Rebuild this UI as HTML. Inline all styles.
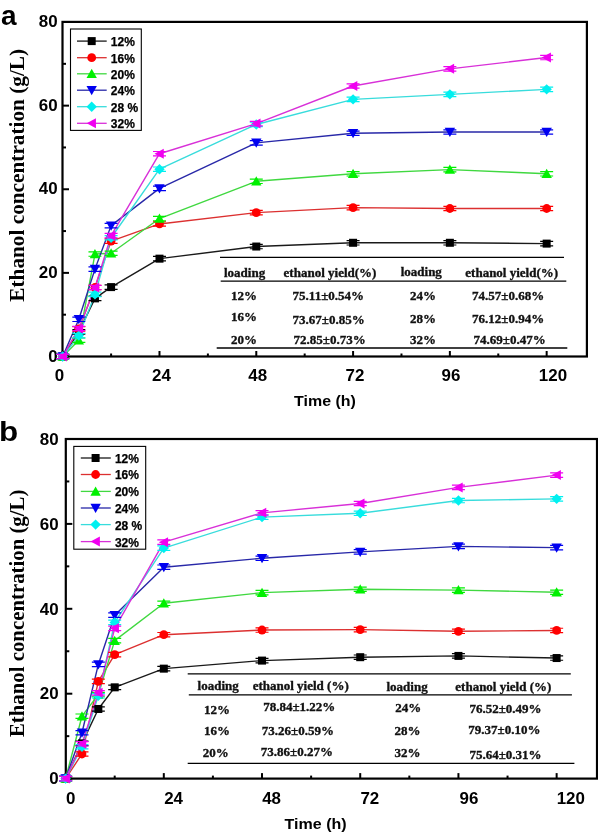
<!DOCTYPE html>
<html><head><meta charset="utf-8"><style>
html,body{margin:0;padding:0;background:#fff;}
svg{display:block;filter:blur(0.35px);}
.tl{font-family:"Liberation Sans",sans-serif;font-weight:bold;font-size:16px;fill:#000;}
.lg{font-family:"Liberation Sans",sans-serif;font-weight:bold;font-size:12px;fill:#000;stroke:#000;stroke-width:0.25px;}
.xt{font-family:"Liberation Sans",sans-serif;font-weight:bold;font-size:14.6px;fill:#000;}
.let{font-family:"Liberation Sans",sans-serif;font-weight:bold;font-size:28px;fill:#000;}
.yt{font-family:"Liberation Serif",serif;font-weight:bold;font-size:21px;fill:#000;}
.tb{font-family:"Liberation Serif",serif;font-weight:bold;font-size:13px;fill:#111;stroke:#111;stroke-width:0.35px;}
</style></head><body>
<svg width="598" height="832" viewBox="0 0 598 832">
<rect width="598" height="832" fill="#fff"/>
<rect x="62.5" y="21.9" width="524.4" height="334.6" fill="none" stroke="#000" stroke-width="2.2"/>
<line x1="62.70" y1="356.5" x2="62.70" y2="351.0" stroke="#000" stroke-width="2"/>
<line x1="111.10" y1="356.5" x2="111.10" y2="353.5" stroke="#000" stroke-width="2"/>
<line x1="159.49" y1="356.5" x2="159.49" y2="351.0" stroke="#000" stroke-width="2"/>
<line x1="207.89" y1="356.5" x2="207.89" y2="353.5" stroke="#000" stroke-width="2"/>
<line x1="256.28" y1="356.5" x2="256.28" y2="351.0" stroke="#000" stroke-width="2"/>
<line x1="304.68" y1="356.5" x2="304.68" y2="353.5" stroke="#000" stroke-width="2"/>
<line x1="353.08" y1="356.5" x2="353.08" y2="351.0" stroke="#000" stroke-width="2"/>
<line x1="401.47" y1="356.5" x2="401.47" y2="353.5" stroke="#000" stroke-width="2"/>
<line x1="449.87" y1="356.5" x2="449.87" y2="351.0" stroke="#000" stroke-width="2"/>
<line x1="498.26" y1="356.5" x2="498.26" y2="353.5" stroke="#000" stroke-width="2"/>
<line x1="546.66" y1="356.5" x2="546.66" y2="351.0" stroke="#000" stroke-width="2"/>
<line x1="62.5" y1="356.50" x2="69.0" y2="356.50" stroke="#000" stroke-width="2"/>
<line x1="62.5" y1="314.69" x2="66.0" y2="314.69" stroke="#000" stroke-width="2"/>
<line x1="62.5" y1="272.88" x2="69.0" y2="272.88" stroke="#000" stroke-width="2"/>
<line x1="62.5" y1="231.07" x2="66.0" y2="231.07" stroke="#000" stroke-width="2"/>
<line x1="62.5" y1="189.26" x2="69.0" y2="189.26" stroke="#000" stroke-width="2"/>
<line x1="62.5" y1="147.45" x2="66.0" y2="147.45" stroke="#000" stroke-width="2"/>
<line x1="62.5" y1="105.64" x2="69.0" y2="105.64" stroke="#000" stroke-width="2"/>
<line x1="62.5" y1="63.83" x2="66.0" y2="63.83" stroke="#000" stroke-width="2"/>
<line x1="62.5" y1="22.02" x2="69.0" y2="22.02" stroke="#000" stroke-width="2"/>
<text transform="translate(59.5,380.5) scale(1.06,1)" class="tl" text-anchor="middle">0</text>
<text transform="translate(161.4,380.5) scale(1.06,1)" class="tl" text-anchor="middle">24</text>
<text transform="translate(257.7,380.5) scale(1.06,1)" class="tl" text-anchor="middle">48</text>
<text transform="translate(355.0,380.5) scale(1.06,1)" class="tl" text-anchor="middle">72</text>
<text transform="translate(451.0,380.5) scale(1.06,1)" class="tl" text-anchor="middle">96</text>
<text transform="translate(553.0,380.5) scale(1.06,1)" class="tl" text-anchor="middle">120</text>
<text transform="translate(57.6,361.5) scale(1.06,1)" class="tl" text-anchor="end">0</text>
<text transform="translate(57.6,277.9) scale(1.06,1)" class="tl" text-anchor="end">20</text>
<text transform="translate(57.6,194.3) scale(1.06,1)" class="tl" text-anchor="end">40</text>
<text transform="translate(57.6,110.6) scale(1.06,1)" class="tl" text-anchor="end">60</text>
<text transform="translate(57.6,27.0) scale(1.06,1)" class="tl" text-anchor="end">80</text>
<line x1="220" y1="257.4" x2="564" y2="257.4" stroke="#000" stroke-width="1.3"/>
<line x1="220.7" y1="281.1" x2="566.3" y2="281.1" stroke="#000" stroke-width="1.3"/>
<line x1="216.7" y1="348" x2="567.3" y2="348" stroke="#000" stroke-width="1.3"/>
<text x="224" y="276.5" class="tb">loading</text>
<text x="283.6" y="276.5" class="tb">ethanol yield(%)</text>
<text x="400.7" y="275.5" class="tb">loading</text>
<text x="465.3" y="276.5" class="tb">ethanol yield(%)</text>
<text x="231" y="299.5" class="tb">12%</text>
<text x="292.6" y="299.5" class="tb">75.11±0.54%</text>
<text x="410" y="299.5" class="tb">24%</text>
<text x="472" y="299.5" class="tb">74.57±0.68%</text>
<text x="231" y="321.2" class="tb">16%</text>
<text x="292.6" y="323.6" class="tb">73.67±0.85%</text>
<text x="410" y="322.9" class="tb">28%</text>
<text x="472" y="322.9" class="tb">76.12±0.94%</text>
<text x="231" y="343.6" class="tb">20%</text>
<text x="293.6" y="344.3" class="tb">72.85±0.73%</text>
<text x="410" y="343.6" class="tb">32%</text>
<text x="473.6" y="344" class="tb">74.69±0.47%</text>
<polyline points="62.70,356.50 78.83,331.83 94.96,298.38 111.10,287.10 159.49,258.66 256.28,246.54 353.08,242.78 449.87,242.78 546.66,243.61" fill="none" stroke="#1a1a1a" stroke-width="1.4" stroke-linejoin="round"/>
<polyline points="62.70,356.50 78.83,328.91 94.96,287.51 111.10,241.10 159.49,223.96 256.28,212.67 353.08,207.66 449.87,208.49 546.66,208.49" fill="none" stroke="#dc3030" stroke-width="1.4" stroke-linejoin="round"/>
<polyline points="62.70,356.50 78.83,340.19 94.96,254.07 111.10,253.23 159.49,218.53 256.28,181.32 353.08,173.79 449.87,169.61 546.66,173.79" fill="none" stroke="#40d840" stroke-width="1.4" stroke-linejoin="round"/>
<polyline points="62.70,356.50 78.83,319.29 94.96,269.12 111.10,225.63 159.49,188.42 256.28,142.85 353.08,133.23 449.87,131.98 546.66,131.98" fill="none" stroke="#2828a8" stroke-width="1.4" stroke-linejoin="round"/>
<polyline points="62.70,356.50 78.83,335.60 94.96,294.41 111.10,237.76 159.49,169.19 256.28,124.45 353.08,99.37 449.87,94.35 546.66,89.33" fill="none" stroke="#38dcdc" stroke-width="1.4" stroke-linejoin="round"/>
<polyline points="62.70,356.50 78.83,328.49 94.96,287.51 111.10,235.67 159.49,153.72 256.28,123.62 353.08,85.99 449.87,68.85 546.66,57.56" fill="none" stroke="#d830d8" stroke-width="1.4" stroke-linejoin="round"/>
<path d="M56.20,354.30h13M56.20,358.70h13M62.70,354.30v4.40" stroke="#000000" stroke-width="1.2" fill="none"/>
<rect x="58.70" y="352.50" width="8.00" height="8.00" fill="#000000"/>
<path d="M72.33,329.63h13M72.33,334.03h13M78.83,329.63v4.40" stroke="#000000" stroke-width="1.2" fill="none"/>
<rect x="74.83" y="327.83" width="8.00" height="8.00" fill="#000000"/>
<path d="M88.46,296.18h13M88.46,300.58h13M94.96,296.18v4.40" stroke="#000000" stroke-width="1.2" fill="none"/>
<rect x="90.96" y="294.38" width="8.00" height="8.00" fill="#000000"/>
<path d="M104.60,284.90h13M104.60,289.30h13M111.10,284.90v4.40" stroke="#000000" stroke-width="1.2" fill="none"/>
<rect x="107.10" y="283.10" width="8.00" height="8.00" fill="#000000"/>
<path d="M152.99,256.46h13M152.99,260.86h13M159.49,256.46v4.40" stroke="#000000" stroke-width="1.2" fill="none"/>
<rect x="155.49" y="254.66" width="8.00" height="8.00" fill="#000000"/>
<path d="M249.78,244.34h13M249.78,248.74h13M256.28,244.34v4.40" stroke="#000000" stroke-width="1.2" fill="none"/>
<rect x="252.28" y="242.54" width="8.00" height="8.00" fill="#000000"/>
<path d="M346.58,240.58h13M346.58,244.98h13M353.08,240.58v4.40" stroke="#000000" stroke-width="1.2" fill="none"/>
<rect x="349.08" y="238.78" width="8.00" height="8.00" fill="#000000"/>
<path d="M443.37,240.58h13M443.37,244.98h13M449.87,240.58v4.40" stroke="#000000" stroke-width="1.2" fill="none"/>
<rect x="445.87" y="238.78" width="8.00" height="8.00" fill="#000000"/>
<path d="M540.16,241.41h13M540.16,245.81h13M546.66,241.41v4.40" stroke="#000000" stroke-width="1.2" fill="none"/>
<rect x="542.66" y="239.61" width="8.00" height="8.00" fill="#000000"/>
<path d="M56.20,354.30h13M56.20,358.70h13M62.70,354.30v4.40" stroke="#ff0000" stroke-width="1.2" fill="none"/>
<circle cx="62.70" cy="356.50" r="4.40" fill="#ff0000"/>
<path d="M72.33,326.71h13M72.33,331.11h13M78.83,326.71v4.40" stroke="#ff0000" stroke-width="1.2" fill="none"/>
<circle cx="78.83" cy="328.91" r="4.40" fill="#ff0000"/>
<path d="M88.46,285.31h13M88.46,289.71h13M94.96,285.31v4.40" stroke="#ff0000" stroke-width="1.2" fill="none"/>
<circle cx="94.96" cy="287.51" r="4.40" fill="#ff0000"/>
<path d="M104.60,238.90h13M104.60,243.30h13M111.10,238.90v4.40" stroke="#ff0000" stroke-width="1.2" fill="none"/>
<circle cx="111.10" cy="241.10" r="4.40" fill="#ff0000"/>
<path d="M152.99,221.76h13M152.99,226.16h13M159.49,221.76v4.40" stroke="#ff0000" stroke-width="1.2" fill="none"/>
<circle cx="159.49" cy="223.96" r="4.40" fill="#ff0000"/>
<path d="M249.78,210.47h13M249.78,214.87h13M256.28,210.47v4.40" stroke="#ff0000" stroke-width="1.2" fill="none"/>
<circle cx="256.28" cy="212.67" r="4.40" fill="#ff0000"/>
<path d="M346.58,205.46h13M346.58,209.86h13M353.08,205.46v4.40" stroke="#ff0000" stroke-width="1.2" fill="none"/>
<circle cx="353.08" cy="207.66" r="4.40" fill="#ff0000"/>
<path d="M443.37,206.29h13M443.37,210.69h13M449.87,206.29v4.40" stroke="#ff0000" stroke-width="1.2" fill="none"/>
<circle cx="449.87" cy="208.49" r="4.40" fill="#ff0000"/>
<path d="M540.16,206.29h13M540.16,210.69h13M546.66,206.29v4.40" stroke="#ff0000" stroke-width="1.2" fill="none"/>
<circle cx="546.66" cy="208.49" r="4.40" fill="#ff0000"/>
<path d="M56.20,354.30h13M56.20,358.70h13M62.70,354.30v4.40" stroke="#00f000" stroke-width="1.2" fill="none"/>
<polygon points="62.70,351.50 67.90,360.75 57.50,360.75" fill="#00f000"/>
<path d="M72.33,337.99h13M72.33,342.39h13M78.83,337.99v4.40" stroke="#00f000" stroke-width="1.2" fill="none"/>
<polygon points="78.83,335.19 84.03,344.44 73.63,344.44" fill="#00f000"/>
<path d="M88.46,251.87h13M88.46,256.27h13M94.96,251.87v4.40" stroke="#00f000" stroke-width="1.2" fill="none"/>
<polygon points="94.96,249.07 100.16,258.32 89.76,258.32" fill="#00f000"/>
<path d="M104.60,251.03h13M104.60,255.43h13M111.10,251.03v4.40" stroke="#00f000" stroke-width="1.2" fill="none"/>
<polygon points="111.10,248.23 116.30,257.48 105.90,257.48" fill="#00f000"/>
<path d="M152.99,216.33h13M152.99,220.73h13M159.49,216.33v4.40" stroke="#00f000" stroke-width="1.2" fill="none"/>
<polygon points="159.49,213.53 164.69,222.78 154.29,222.78" fill="#00f000"/>
<path d="M249.78,179.12h13M249.78,183.52h13M256.28,179.12v4.40" stroke="#00f000" stroke-width="1.2" fill="none"/>
<polygon points="256.28,176.32 261.48,185.57 251.08,185.57" fill="#00f000"/>
<path d="M346.58,171.59h13M346.58,175.99h13M353.08,171.59v4.40" stroke="#00f000" stroke-width="1.2" fill="none"/>
<polygon points="353.08,168.79 358.28,178.04 347.88,178.04" fill="#00f000"/>
<path d="M443.37,167.41h13M443.37,171.81h13M449.87,167.41v4.40" stroke="#00f000" stroke-width="1.2" fill="none"/>
<polygon points="449.87,164.61 455.07,173.86 444.67,173.86" fill="#00f000"/>
<path d="M540.16,171.59h13M540.16,175.99h13M546.66,171.59v4.40" stroke="#00f000" stroke-width="1.2" fill="none"/>
<polygon points="546.66,168.79 551.86,178.04 541.46,178.04" fill="#00f000"/>
<path d="M56.20,354.30h13M56.20,358.70h13M62.70,354.30v4.40" stroke="#0000f0" stroke-width="1.2" fill="none"/>
<polygon points="62.70,361.50 67.90,352.25 57.50,352.25" fill="#0000f0"/>
<path d="M72.33,317.09h13M72.33,321.49h13M78.83,317.09v4.40" stroke="#0000f0" stroke-width="1.2" fill="none"/>
<polygon points="78.83,324.29 84.03,315.04 73.63,315.04" fill="#0000f0"/>
<path d="M88.46,266.92h13M88.46,271.32h13M94.96,266.92v4.40" stroke="#0000f0" stroke-width="1.2" fill="none"/>
<polygon points="94.96,274.12 100.16,264.87 89.76,264.87" fill="#0000f0"/>
<path d="M104.60,223.43h13M104.60,227.83h13M111.10,223.43v4.40" stroke="#0000f0" stroke-width="1.2" fill="none"/>
<polygon points="111.10,230.63 116.30,221.38 105.90,221.38" fill="#0000f0"/>
<path d="M152.99,186.22h13M152.99,190.62h13M159.49,186.22v4.40" stroke="#0000f0" stroke-width="1.2" fill="none"/>
<polygon points="159.49,193.42 164.69,184.17 154.29,184.17" fill="#0000f0"/>
<path d="M249.78,140.65h13M249.78,145.05h13M256.28,140.65v4.40" stroke="#0000f0" stroke-width="1.2" fill="none"/>
<polygon points="256.28,147.85 261.48,138.60 251.08,138.60" fill="#0000f0"/>
<path d="M346.58,131.03h13M346.58,135.43h13M353.08,131.03v4.40" stroke="#0000f0" stroke-width="1.2" fill="none"/>
<polygon points="353.08,138.23 358.28,128.98 347.88,128.98" fill="#0000f0"/>
<path d="M443.37,129.78h13M443.37,134.18h13M449.87,129.78v4.40" stroke="#0000f0" stroke-width="1.2" fill="none"/>
<polygon points="449.87,136.98 455.07,127.73 444.67,127.73" fill="#0000f0"/>
<path d="M540.16,129.78h13M540.16,134.18h13M546.66,129.78v4.40" stroke="#0000f0" stroke-width="1.2" fill="none"/>
<polygon points="546.66,136.98 551.86,127.73 541.46,127.73" fill="#0000f0"/>
<path d="M56.20,354.30h13M56.20,358.70h13M62.70,354.30v4.40" stroke="#00f0f0" stroke-width="1.2" fill="none"/>
<polygon points="62.70,351.30 67.90,356.50 62.70,361.70 57.50,356.50" fill="#00f0f0"/>
<path d="M72.33,333.40h13M72.33,337.80h13M78.83,333.40v4.40" stroke="#00f0f0" stroke-width="1.2" fill="none"/>
<polygon points="78.83,330.40 84.03,335.60 78.83,340.80 73.63,335.60" fill="#00f0f0"/>
<path d="M88.46,292.21h13M88.46,296.61h13M94.96,292.21v4.40" stroke="#00f0f0" stroke-width="1.2" fill="none"/>
<polygon points="94.96,289.21 100.16,294.41 94.96,299.61 89.76,294.41" fill="#00f0f0"/>
<path d="M104.60,235.56h13M104.60,239.96h13M111.10,235.56v4.40" stroke="#00f0f0" stroke-width="1.2" fill="none"/>
<polygon points="111.10,232.56 116.30,237.76 111.10,242.96 105.90,237.76" fill="#00f0f0"/>
<path d="M152.99,166.99h13M152.99,171.39h13M159.49,166.99v4.40" stroke="#00f0f0" stroke-width="1.2" fill="none"/>
<polygon points="159.49,163.99 164.69,169.19 159.49,174.39 154.29,169.19" fill="#00f0f0"/>
<path d="M249.78,122.25h13M249.78,126.65h13M256.28,122.25v4.40" stroke="#00f0f0" stroke-width="1.2" fill="none"/>
<polygon points="256.28,119.25 261.48,124.45 256.28,129.65 251.08,124.45" fill="#00f0f0"/>
<path d="M346.58,97.17h13M346.58,101.57h13M353.08,97.17v4.40" stroke="#00f0f0" stroke-width="1.2" fill="none"/>
<polygon points="353.08,94.17 358.28,99.37 353.08,104.57 347.88,99.37" fill="#00f0f0"/>
<path d="M443.37,92.15h13M443.37,96.55h13M449.87,92.15v4.40" stroke="#00f0f0" stroke-width="1.2" fill="none"/>
<polygon points="449.87,89.15 455.07,94.35 449.87,99.55 444.67,94.35" fill="#00f0f0"/>
<path d="M540.16,87.13h13M540.16,91.53h13M546.66,87.13v4.40" stroke="#00f0f0" stroke-width="1.2" fill="none"/>
<polygon points="546.66,84.13 551.86,89.33 546.66,94.53 541.46,89.33" fill="#00f0f0"/>
<path d="M56.20,354.30h13M56.20,358.70h13M62.70,354.30v4.40" stroke="#f000f0" stroke-width="1.2" fill="none"/>
<polygon points="57.70,356.50 66.95,351.50 66.95,361.50" fill="#f000f0"/>
<path d="M72.33,326.29h13M72.33,330.69h13M78.83,326.29v4.40" stroke="#f000f0" stroke-width="1.2" fill="none"/>
<polygon points="73.83,328.49 83.08,323.49 83.08,333.49" fill="#f000f0"/>
<path d="M88.46,285.31h13M88.46,289.71h13M94.96,285.31v4.40" stroke="#f000f0" stroke-width="1.2" fill="none"/>
<polygon points="89.96,287.51 99.21,282.51 99.21,292.51" fill="#f000f0"/>
<path d="M104.60,233.47h13M104.60,237.87h13M111.10,233.47v4.40" stroke="#f000f0" stroke-width="1.2" fill="none"/>
<polygon points="106.10,235.67 115.35,230.67 115.35,240.67" fill="#f000f0"/>
<path d="M152.99,151.52h13M152.99,155.92h13M159.49,151.52v4.40" stroke="#f000f0" stroke-width="1.2" fill="none"/>
<polygon points="154.49,153.72 163.74,148.72 163.74,158.72" fill="#f000f0"/>
<path d="M249.78,121.42h13M249.78,125.82h13M256.28,121.42v4.40" stroke="#f000f0" stroke-width="1.2" fill="none"/>
<polygon points="251.28,123.62 260.53,118.62 260.53,128.62" fill="#f000f0"/>
<path d="M346.58,83.79h13M346.58,88.19h13M353.08,83.79v4.40" stroke="#f000f0" stroke-width="1.2" fill="none"/>
<polygon points="348.08,85.99 357.33,80.99 357.33,90.99" fill="#f000f0"/>
<path d="M443.37,66.65h13M443.37,71.05h13M449.87,66.65v4.40" stroke="#f000f0" stroke-width="1.2" fill="none"/>
<polygon points="444.87,68.85 454.12,63.85 454.12,73.85" fill="#f000f0"/>
<path d="M540.16,55.36h13M540.16,59.76h13M546.66,55.36v4.40" stroke="#f000f0" stroke-width="1.2" fill="none"/>
<polygon points="541.66,57.56 550.91,52.56 550.91,62.56" fill="#f000f0"/>
<rect x="70.5" y="29" width="70.80000000000001" height="101.4" fill="#fff" stroke="#000" stroke-width="1.1"/>
<line x1="77" y1="41.1" x2="106.7" y2="41.1" stroke="#1a1a1a" stroke-width="1.3"/>
<rect x="87.70" y="37.10" width="8.00" height="8.00" fill="#000000"/>
<text x="110.8" y="46.0" class="lg">12%</text>
<line x1="77" y1="57.7" x2="106.7" y2="57.7" stroke="#dc3030" stroke-width="1.3"/>
<circle cx="91.70" cy="57.70" r="4.40" fill="#ff0000"/>
<text x="110.8" y="62.6" class="lg">16%</text>
<line x1="77" y1="73.8" x2="106.7" y2="73.8" stroke="#40d840" stroke-width="1.3"/>
<polygon points="91.70,68.80 96.90,78.05 86.50,78.05" fill="#00f000"/>
<text x="110.8" y="78.7" class="lg">20%</text>
<line x1="77" y1="90.2" x2="106.7" y2="90.2" stroke="#2828a8" stroke-width="1.3"/>
<polygon points="91.70,95.20 96.90,85.95 86.50,85.95" fill="#0000f0"/>
<text x="110.8" y="95.1" class="lg">24%</text>
<line x1="77" y1="106.7" x2="106.7" y2="106.7" stroke="#38dcdc" stroke-width="1.3"/>
<polygon points="91.70,101.50 96.90,106.70 91.70,111.90 86.50,106.70" fill="#00f0f0"/>
<text x="110.8" y="111.6" class="lg">28 %</text>
<line x1="77" y1="123.3" x2="106.7" y2="123.3" stroke="#d830d8" stroke-width="1.3"/>
<polygon points="86.70,123.30 95.95,118.30 95.95,128.30" fill="#f000f0"/>
<text x="110.8" y="128.2" class="lg">32%</text>
<text x="1" y="24.7" class="let">a</text>
<text transform="translate(24,175.3) rotate(-90)" class="yt" style="font-size:21.27px" text-anchor="middle">Ethanol concentration (g/L)</text>
<text x="294.1" y="406.1" class="xt" textLength="61.8" lengthAdjust="spacingAndGlyphs">Time (h)</text>
<rect x="65.8" y="439" width="531.2" height="339.6" fill="none" stroke="#000" stroke-width="2.2"/>
<line x1="65.60" y1="778.6" x2="65.60" y2="773.1" stroke="#000" stroke-width="2"/>
<line x1="114.70" y1="778.6" x2="114.70" y2="775.6" stroke="#000" stroke-width="2"/>
<line x1="163.81" y1="778.6" x2="163.81" y2="773.1" stroke="#000" stroke-width="2"/>
<line x1="212.91" y1="778.6" x2="212.91" y2="775.6" stroke="#000" stroke-width="2"/>
<line x1="262.02" y1="778.6" x2="262.02" y2="773.1" stroke="#000" stroke-width="2"/>
<line x1="311.12" y1="778.6" x2="311.12" y2="775.6" stroke="#000" stroke-width="2"/>
<line x1="360.22" y1="778.6" x2="360.22" y2="773.1" stroke="#000" stroke-width="2"/>
<line x1="409.33" y1="778.6" x2="409.33" y2="775.6" stroke="#000" stroke-width="2"/>
<line x1="458.43" y1="778.6" x2="458.43" y2="773.1" stroke="#000" stroke-width="2"/>
<line x1="507.54" y1="778.6" x2="507.54" y2="775.6" stroke="#000" stroke-width="2"/>
<line x1="556.64" y1="778.6" x2="556.64" y2="773.1" stroke="#000" stroke-width="2"/>
<line x1="65.8" y1="778.60" x2="72.3" y2="778.60" stroke="#000" stroke-width="2"/>
<line x1="65.8" y1="736.15" x2="69.3" y2="736.15" stroke="#000" stroke-width="2"/>
<line x1="65.8" y1="693.70" x2="72.3" y2="693.70" stroke="#000" stroke-width="2"/>
<line x1="65.8" y1="651.25" x2="69.3" y2="651.25" stroke="#000" stroke-width="2"/>
<line x1="65.8" y1="608.80" x2="72.3" y2="608.80" stroke="#000" stroke-width="2"/>
<line x1="65.8" y1="566.35" x2="69.3" y2="566.35" stroke="#000" stroke-width="2"/>
<line x1="65.8" y1="523.90" x2="72.3" y2="523.90" stroke="#000" stroke-width="2"/>
<line x1="65.8" y1="481.45" x2="69.3" y2="481.45" stroke="#000" stroke-width="2"/>
<line x1="65.8" y1="439.00" x2="72.3" y2="439.00" stroke="#000" stroke-width="2"/>
<text transform="translate(70.8,804.4) scale(1.06,1)" class="tl" text-anchor="middle">0</text>
<text transform="translate(173.6,804.4) scale(1.06,1)" class="tl" text-anchor="middle">24</text>
<text transform="translate(271.6,804.4) scale(1.06,1)" class="tl" text-anchor="middle">48</text>
<text transform="translate(369.8,804.4) scale(1.06,1)" class="tl" text-anchor="middle">72</text>
<text transform="translate(468.9,804.4) scale(1.06,1)" class="tl" text-anchor="middle">96</text>
<text transform="translate(570.8,804.4) scale(1.06,1)" class="tl" text-anchor="middle">120</text>
<text transform="translate(58.7,784.3) scale(1.06,1)" class="tl" text-anchor="end">0</text>
<text transform="translate(58.7,699.4) scale(1.06,1)" class="tl" text-anchor="end">20</text>
<text transform="translate(58.7,614.5) scale(1.06,1)" class="tl" text-anchor="end">40</text>
<text transform="translate(58.7,529.6) scale(1.06,1)" class="tl" text-anchor="end">60</text>
<text transform="translate(58.7,444.7) scale(1.06,1)" class="tl" text-anchor="end">80</text>
<line x1="187.7" y1="673.8" x2="570.8" y2="673.8" stroke="#000" stroke-width="1.3"/>
<line x1="188.8" y1="694.8" x2="571.9" y2="694.8" stroke="#000" stroke-width="1.3"/>
<line x1="187.7" y1="763.3" x2="574.4" y2="763.3" stroke="#000" stroke-width="1.3"/>
<text x="197.6" y="690.3" class="tb">loading</text>
<text x="252.7" y="690.3" class="tb">ethanol yield (%)</text>
<text x="386.5" y="691.3" class="tb">loading</text>
<text x="455.3" y="691.3" class="tb">ethanol yield (%)</text>
<text x="203.9" y="713.5" class="tb">12%</text>
<text x="263.2" y="710.6" class="tb">78.84±1.22%</text>
<text x="395.3" y="712.4" class="tb">24%</text>
<text x="469.4" y="713.1" class="tb">76.52±0.49%</text>
<text x="204" y="734.5" class="tb">16%</text>
<text x="261.8" y="734.5" class="tb">73.26±0.59%</text>
<text x="394.6" y="734.5" class="tb">28%</text>
<text x="468.3" y="733.5" class="tb">79.37±0.10%</text>
<text x="202.8" y="757" class="tb">20%</text>
<text x="260.8" y="756.3" class="tb">73.86±0.27%</text>
<text x="394.6" y="757" class="tb">32%</text>
<text x="469.4" y="759.1" class="tb">75.64±0.31%</text>
<polyline points="65.60,778.60 81.97,743.37 98.34,708.98 114.70,687.33 163.81,668.65 262.02,660.59 360.22,657.19 458.43,655.92 556.64,658.04" fill="none" stroke="#1a1a1a" stroke-width="1.4" stroke-linejoin="round"/>
<polyline points="65.60,778.60 81.97,753.98 98.34,681.39 114.70,654.65 163.81,634.69 262.02,630.02 360.22,629.60 458.43,631.30 556.64,630.45" fill="none" stroke="#dc3030" stroke-width="1.4" stroke-linejoin="round"/>
<polyline points="65.60,778.60 81.97,716.20 98.34,694.55 114.70,640.64 163.81,603.28 262.02,592.67 360.22,589.27 458.43,590.12 556.64,592.24" fill="none" stroke="#40d840" stroke-width="1.4" stroke-linejoin="round"/>
<polyline points="65.60,778.60 81.97,732.75 98.34,664.41 114.70,615.17 163.81,567.20 262.02,558.28 360.22,551.92 458.43,546.40 556.64,547.67" fill="none" stroke="#2828a8" stroke-width="1.4" stroke-linejoin="round"/>
<polyline points="65.60,778.60 81.97,746.76 98.34,695.82 114.70,622.38 163.81,548.10 262.02,517.11 360.22,513.29 458.43,500.55 556.64,498.85" fill="none" stroke="#38dcdc" stroke-width="1.4" stroke-linejoin="round"/>
<polyline points="65.60,778.60 81.97,743.79 98.34,692.85 114.70,628.33 163.81,542.15 262.02,512.86 360.22,503.52 458.43,487.39 556.64,475.08" fill="none" stroke="#d830d8" stroke-width="1.4" stroke-linejoin="round"/>
<path d="M59.10,776.40h13M59.10,780.80h13M65.60,776.40v4.40" stroke="#000000" stroke-width="1.2" fill="none"/>
<rect x="61.60" y="774.60" width="8.00" height="8.00" fill="#000000"/>
<path d="M75.47,741.17h13M75.47,745.57h13M81.97,741.17v4.40" stroke="#000000" stroke-width="1.2" fill="none"/>
<rect x="77.97" y="739.37" width="8.00" height="8.00" fill="#000000"/>
<path d="M91.84,706.78h13M91.84,711.18h13M98.34,706.78v4.40" stroke="#000000" stroke-width="1.2" fill="none"/>
<rect x="94.34" y="704.98" width="8.00" height="8.00" fill="#000000"/>
<path d="M108.20,685.13h13M108.20,689.53h13M114.70,685.13v4.40" stroke="#000000" stroke-width="1.2" fill="none"/>
<rect x="110.70" y="683.33" width="8.00" height="8.00" fill="#000000"/>
<path d="M157.31,666.45h13M157.31,670.85h13M163.81,666.45v4.40" stroke="#000000" stroke-width="1.2" fill="none"/>
<rect x="159.81" y="664.65" width="8.00" height="8.00" fill="#000000"/>
<path d="M255.52,658.39h13M255.52,662.79h13M262.02,658.39v4.40" stroke="#000000" stroke-width="1.2" fill="none"/>
<rect x="258.02" y="656.59" width="8.00" height="8.00" fill="#000000"/>
<path d="M353.72,654.99h13M353.72,659.39h13M360.22,654.99v4.40" stroke="#000000" stroke-width="1.2" fill="none"/>
<rect x="356.22" y="653.19" width="8.00" height="8.00" fill="#000000"/>
<path d="M451.93,653.72h13M451.93,658.12h13M458.43,653.72v4.40" stroke="#000000" stroke-width="1.2" fill="none"/>
<rect x="454.43" y="651.92" width="8.00" height="8.00" fill="#000000"/>
<path d="M550.14,655.84h13M550.14,660.24h13M556.64,655.84v4.40" stroke="#000000" stroke-width="1.2" fill="none"/>
<rect x="552.64" y="654.04" width="8.00" height="8.00" fill="#000000"/>
<path d="M59.10,776.40h13M59.10,780.80h13M65.60,776.40v4.40" stroke="#ff0000" stroke-width="1.2" fill="none"/>
<circle cx="65.60" cy="778.60" r="4.40" fill="#ff0000"/>
<path d="M75.47,751.78h13M75.47,756.18h13M81.97,751.78v4.40" stroke="#ff0000" stroke-width="1.2" fill="none"/>
<circle cx="81.97" cy="753.98" r="4.40" fill="#ff0000"/>
<path d="M91.84,679.19h13M91.84,683.59h13M98.34,679.19v4.40" stroke="#ff0000" stroke-width="1.2" fill="none"/>
<circle cx="98.34" cy="681.39" r="4.40" fill="#ff0000"/>
<path d="M108.20,652.45h13M108.20,656.85h13M114.70,652.45v4.40" stroke="#ff0000" stroke-width="1.2" fill="none"/>
<circle cx="114.70" cy="654.65" r="4.40" fill="#ff0000"/>
<path d="M157.31,632.49h13M157.31,636.89h13M163.81,632.49v4.40" stroke="#ff0000" stroke-width="1.2" fill="none"/>
<circle cx="163.81" cy="634.69" r="4.40" fill="#ff0000"/>
<path d="M255.52,627.82h13M255.52,632.23h13M262.02,627.82v4.40" stroke="#ff0000" stroke-width="1.2" fill="none"/>
<circle cx="262.02" cy="630.02" r="4.40" fill="#ff0000"/>
<path d="M353.72,627.40h13M353.72,631.80h13M360.22,627.40v4.40" stroke="#ff0000" stroke-width="1.2" fill="none"/>
<circle cx="360.22" cy="629.60" r="4.40" fill="#ff0000"/>
<path d="M451.93,629.10h13M451.93,633.50h13M458.43,629.10v4.40" stroke="#ff0000" stroke-width="1.2" fill="none"/>
<circle cx="458.43" cy="631.30" r="4.40" fill="#ff0000"/>
<path d="M550.14,628.25h13M550.14,632.65h13M556.64,628.25v4.40" stroke="#ff0000" stroke-width="1.2" fill="none"/>
<circle cx="556.64" cy="630.45" r="4.40" fill="#ff0000"/>
<path d="M59.10,776.40h13M59.10,780.80h13M65.60,776.40v4.40" stroke="#00f000" stroke-width="1.2" fill="none"/>
<polygon points="65.60,773.60 70.80,782.85 60.40,782.85" fill="#00f000"/>
<path d="M75.47,714.00h13M75.47,718.40h13M81.97,714.00v4.40" stroke="#00f000" stroke-width="1.2" fill="none"/>
<polygon points="81.97,711.20 87.17,720.45 76.77,720.45" fill="#00f000"/>
<path d="M91.84,692.35h13M91.84,696.75h13M98.34,692.35v4.40" stroke="#00f000" stroke-width="1.2" fill="none"/>
<polygon points="98.34,689.55 103.54,698.80 93.14,698.80" fill="#00f000"/>
<path d="M108.20,638.44h13M108.20,642.84h13M114.70,638.44v4.40" stroke="#00f000" stroke-width="1.2" fill="none"/>
<polygon points="114.70,635.64 119.90,644.89 109.50,644.89" fill="#00f000"/>
<path d="M157.31,601.08h13M157.31,605.48h13M163.81,601.08v4.40" stroke="#00f000" stroke-width="1.2" fill="none"/>
<polygon points="163.81,598.28 169.01,607.53 158.61,607.53" fill="#00f000"/>
<path d="M255.52,590.47h13M255.52,594.87h13M262.02,590.47v4.40" stroke="#00f000" stroke-width="1.2" fill="none"/>
<polygon points="262.02,587.67 267.22,596.92 256.82,596.92" fill="#00f000"/>
<path d="M353.72,587.07h13M353.72,591.47h13M360.22,587.07v4.40" stroke="#00f000" stroke-width="1.2" fill="none"/>
<polygon points="360.22,584.27 365.42,593.52 355.02,593.52" fill="#00f000"/>
<path d="M451.93,587.92h13M451.93,592.32h13M458.43,587.92v4.40" stroke="#00f000" stroke-width="1.2" fill="none"/>
<polygon points="458.43,585.12 463.63,594.37 453.23,594.37" fill="#00f000"/>
<path d="M550.14,590.04h13M550.14,594.44h13M556.64,590.04v4.40" stroke="#00f000" stroke-width="1.2" fill="none"/>
<polygon points="556.64,587.24 561.84,596.49 551.44,596.49" fill="#00f000"/>
<path d="M59.10,776.40h13M59.10,780.80h13M65.60,776.40v4.40" stroke="#0000f0" stroke-width="1.2" fill="none"/>
<polygon points="65.60,783.60 70.80,774.35 60.40,774.35" fill="#0000f0"/>
<path d="M75.47,730.55h13M75.47,734.95h13M81.97,730.55v4.40" stroke="#0000f0" stroke-width="1.2" fill="none"/>
<polygon points="81.97,737.75 87.17,728.50 76.77,728.50" fill="#0000f0"/>
<path d="M91.84,662.21h13M91.84,666.61h13M98.34,662.21v4.40" stroke="#0000f0" stroke-width="1.2" fill="none"/>
<polygon points="98.34,669.41 103.54,660.16 93.14,660.16" fill="#0000f0"/>
<path d="M108.20,612.97h13M108.20,617.37h13M114.70,612.97v4.40" stroke="#0000f0" stroke-width="1.2" fill="none"/>
<polygon points="114.70,620.17 119.90,610.92 109.50,610.92" fill="#0000f0"/>
<path d="M157.31,565.00h13M157.31,569.40h13M163.81,565.00v4.40" stroke="#0000f0" stroke-width="1.2" fill="none"/>
<polygon points="163.81,572.20 169.01,562.95 158.61,562.95" fill="#0000f0"/>
<path d="M255.52,556.08h13M255.52,560.48h13M262.02,556.08v4.40" stroke="#0000f0" stroke-width="1.2" fill="none"/>
<polygon points="262.02,563.28 267.22,554.03 256.82,554.03" fill="#0000f0"/>
<path d="M353.72,549.72h13M353.72,554.12h13M360.22,549.72v4.40" stroke="#0000f0" stroke-width="1.2" fill="none"/>
<polygon points="360.22,556.92 365.42,547.67 355.02,547.67" fill="#0000f0"/>
<path d="M451.93,544.20h13M451.93,548.60h13M458.43,544.20v4.40" stroke="#0000f0" stroke-width="1.2" fill="none"/>
<polygon points="458.43,551.40 463.63,542.15 453.23,542.15" fill="#0000f0"/>
<path d="M550.14,545.47h13M550.14,549.87h13M556.64,545.47v4.40" stroke="#0000f0" stroke-width="1.2" fill="none"/>
<polygon points="556.64,552.67 561.84,543.42 551.44,543.42" fill="#0000f0"/>
<path d="M59.10,776.40h13M59.10,780.80h13M65.60,776.40v4.40" stroke="#00f0f0" stroke-width="1.2" fill="none"/>
<polygon points="65.60,773.40 70.80,778.60 65.60,783.80 60.40,778.60" fill="#00f0f0"/>
<path d="M75.47,744.56h13M75.47,748.96h13M81.97,744.56v4.40" stroke="#00f0f0" stroke-width="1.2" fill="none"/>
<polygon points="81.97,741.56 87.17,746.76 81.97,751.96 76.77,746.76" fill="#00f0f0"/>
<path d="M91.84,693.62h13M91.84,698.02h13M98.34,693.62v4.40" stroke="#00f0f0" stroke-width="1.2" fill="none"/>
<polygon points="98.34,690.62 103.54,695.82 98.34,701.02 93.14,695.82" fill="#00f0f0"/>
<path d="M108.20,620.18h13M108.20,624.58h13M114.70,620.18v4.40" stroke="#00f0f0" stroke-width="1.2" fill="none"/>
<polygon points="114.70,617.18 119.90,622.38 114.70,627.58 109.50,622.38" fill="#00f0f0"/>
<path d="M157.31,545.90h13M157.31,550.30h13M163.81,545.90v4.40" stroke="#00f0f0" stroke-width="1.2" fill="none"/>
<polygon points="163.81,542.90 169.01,548.10 163.81,553.30 158.61,548.10" fill="#00f0f0"/>
<path d="M255.52,514.91h13M255.52,519.31h13M262.02,514.91v4.40" stroke="#00f0f0" stroke-width="1.2" fill="none"/>
<polygon points="262.02,511.91 267.22,517.11 262.02,522.31 256.82,517.11" fill="#00f0f0"/>
<path d="M353.72,511.09h13M353.72,515.49h13M360.22,511.09v4.40" stroke="#00f0f0" stroke-width="1.2" fill="none"/>
<polygon points="360.22,508.09 365.42,513.29 360.22,518.49 355.02,513.29" fill="#00f0f0"/>
<path d="M451.93,498.35h13M451.93,502.75h13M458.43,498.35v4.40" stroke="#00f0f0" stroke-width="1.2" fill="none"/>
<polygon points="458.43,495.35 463.63,500.55 458.43,505.75 453.23,500.55" fill="#00f0f0"/>
<path d="M550.14,496.65h13M550.14,501.05h13M556.64,496.65v4.40" stroke="#00f0f0" stroke-width="1.2" fill="none"/>
<polygon points="556.64,493.65 561.84,498.85 556.64,504.05 551.44,498.85" fill="#00f0f0"/>
<path d="M59.10,776.40h13M59.10,780.80h13M65.60,776.40v4.40" stroke="#f000f0" stroke-width="1.2" fill="none"/>
<polygon points="60.60,778.60 69.85,773.60 69.85,783.60" fill="#f000f0"/>
<path d="M75.47,741.59h13M75.47,745.99h13M81.97,741.59v4.40" stroke="#f000f0" stroke-width="1.2" fill="none"/>
<polygon points="76.97,743.79 86.22,738.79 86.22,748.79" fill="#f000f0"/>
<path d="M91.84,690.65h13M91.84,695.05h13M98.34,690.65v4.40" stroke="#f000f0" stroke-width="1.2" fill="none"/>
<polygon points="93.34,692.85 102.59,687.85 102.59,697.85" fill="#f000f0"/>
<path d="M108.20,626.13h13M108.20,630.53h13M114.70,626.13v4.40" stroke="#f000f0" stroke-width="1.2" fill="none"/>
<polygon points="109.70,628.33 118.95,623.33 118.95,633.33" fill="#f000f0"/>
<path d="M157.31,539.95h13M157.31,544.35h13M163.81,539.95v4.40" stroke="#f000f0" stroke-width="1.2" fill="none"/>
<polygon points="158.81,542.15 168.06,537.15 168.06,547.15" fill="#f000f0"/>
<path d="M255.52,510.66h13M255.52,515.06h13M262.02,510.66v4.40" stroke="#f000f0" stroke-width="1.2" fill="none"/>
<polygon points="257.02,512.86 266.27,507.86 266.27,517.86" fill="#f000f0"/>
<path d="M353.72,501.32h13M353.72,505.72h13M360.22,501.32v4.40" stroke="#f000f0" stroke-width="1.2" fill="none"/>
<polygon points="355.22,503.52 364.47,498.52 364.47,508.52" fill="#f000f0"/>
<path d="M451.93,485.19h13M451.93,489.59h13M458.43,485.19v4.40" stroke="#f000f0" stroke-width="1.2" fill="none"/>
<polygon points="453.43,487.39 462.68,482.39 462.68,492.39" fill="#f000f0"/>
<path d="M550.14,472.88h13M550.14,477.28h13M556.64,472.88v4.40" stroke="#f000f0" stroke-width="1.2" fill="none"/>
<polygon points="551.64,475.08 560.89,470.08 560.89,480.08" fill="#f000f0"/>
<rect x="73.8" y="446.4" width="71.89999999999999" height="102.80000000000007" fill="#fff" stroke="#000" stroke-width="1.1"/>
<line x1="80.8" y1="458" x2="110.8" y2="458" stroke="#1a1a1a" stroke-width="1.3"/>
<rect x="91.60" y="454.00" width="8.00" height="8.00" fill="#000000"/>
<text x="114.9" y="462.9" class="lg">12%</text>
<line x1="80.8" y1="474.5" x2="110.8" y2="474.5" stroke="#dc3030" stroke-width="1.3"/>
<circle cx="95.60" cy="474.50" r="4.40" fill="#ff0000"/>
<text x="114.9" y="479.4" class="lg">16%</text>
<line x1="80.8" y1="491.4" x2="110.8" y2="491.4" stroke="#40d840" stroke-width="1.3"/>
<polygon points="95.60,486.40 100.80,495.65 90.40,495.65" fill="#00f000"/>
<text x="114.9" y="496.3" class="lg">20%</text>
<line x1="80.8" y1="508" x2="110.8" y2="508" stroke="#2828a8" stroke-width="1.3"/>
<polygon points="95.60,513.00 100.80,503.75 90.40,503.75" fill="#0000f0"/>
<text x="114.9" y="512.9" class="lg">24%</text>
<line x1="80.8" y1="524.6" x2="110.8" y2="524.6" stroke="#38dcdc" stroke-width="1.3"/>
<polygon points="95.60,519.40 100.80,524.60 95.60,529.80 90.40,524.60" fill="#00f0f0"/>
<text x="114.9" y="529.5" class="lg">28 %</text>
<line x1="80.8" y1="541.6" x2="110.8" y2="541.6" stroke="#d830d8" stroke-width="1.3"/>
<polygon points="90.60,541.60 99.85,536.60 99.85,546.60" fill="#f000f0"/>
<text x="114.9" y="546.5" class="lg">32%</text>
<text transform="translate(-1,440.8) scale(1.12,1)" class="let">b</text>
<text transform="translate(23.6,613.35) rotate(-90)" class="yt" style="font-size:20.82px" text-anchor="middle">Ethanol concentration (g/L)</text>
<text x="284.6" y="828.7" class="xt" textLength="62.1" lengthAdjust="spacingAndGlyphs">Time (h)</text>
</svg>
</body></html>
